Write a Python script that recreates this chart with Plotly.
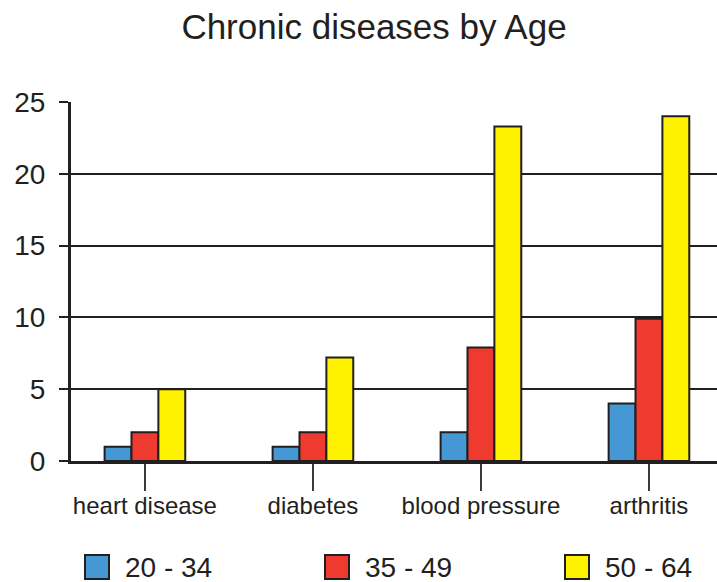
import plotly.graph_objects as go

# ---- data ----
categories = ["heart disease", "diabetes", "blood pressure", "arthritis"]
series_names = ["20 - 34", "35 - 49", "50 - 64"]
values_20_34 = [1, 1, 2, 4]
values_35_49 = [2, 2, 7.9, 9.9]
values_50_64 = [5, 7.2, 23.3, 24]
series_values = [values_20_34, values_35_49, values_50_64]
series_colors = ["#4598D3", "#EE3A2F", "#FFF200"]
y_ticks = [0, 5, 10, 15, 20, 25]

INK = "#231F20"
FONT = "Liberation Sans, Arial, Helvetica, sans-serif"

W, H = 717, 582
L, R, T, B = 71, 0, 102, 121
PW, PH = W - L - R, H - T - B


def px2x(px):
    return (px - L) / PW


def px2y(py):
    return (H - B - py) / PH


fig = go.Figure()
for name, vals, col in zip(series_names, series_values, series_colors):
    fig.add_trace(go.Bar(
        x=categories, y=vals, name=name,
        marker=dict(color=col, line=dict(color=INK, width=2)),
        showlegend=False,
    ))

# manual legend (large square swatches like the reference)
shapes = []
annotations = []
leg_left = [85, 325, 565]
for i, (name, col) in enumerate(zip(series_names, series_colors)):
    x0 = leg_left[i]
    shapes.append(dict(type="rect", xref="paper", yref="paper",
                       x0=px2x(x0), x1=px2x(x0 + 24), y0=px2y(579), y1=px2y(555),
                       fillcolor=col, line=dict(color=INK, width=2)))
    annotations.append(dict(text=name, xref="paper", yref="paper",
                            x=px2x(x0 + 38), y=px2y(567), xanchor="left", yanchor="middle",
                            showarrow=False, font=dict(size=28, color=INK, family=FONT)))

fig.update_layout(
    width=W, height=H,
    margin=dict(l=L, r=R, t=T, b=B, pad=0),
    paper_bgcolor="white", plot_bgcolor="rgba(0,0,0,0)",
    font=dict(family=FONT, color=INK),
    title=dict(text="Chronic diseases by Age", x=374 / W, xref="container", xanchor="center",
               y=1 - 27 / H, yref="container", yanchor="middle",
               font=dict(size=35, color=INK, family=FONT)),
    barmode="group", bargap=0.52, bargroupgap=0,
    shapes=shapes, annotations=annotations,
)
fig.update_xaxes(
    type="category", range=[-0.44, 3.405],
    showline=True, linecolor=INK, linewidth=3,
    ticks="outside", ticklen=27, tickwidth=1.5, tickcolor="#3a3a3a",
    tickfont=dict(size=24, color=INK, family=FONT),
    showgrid=False, zeroline=False, fixedrange=True,
    ticklabelstandoff=-6,
)
fig.update_yaxes(
    range=[0, 25], tickvals=y_ticks,
    showline=True, linecolor=INK, linewidth=3,
    ticks="outside", ticklen=9, tickwidth=2, tickcolor=INK,
    tickfont=dict(size=28, color=INK, family=FONT),
    showgrid=True, gridcolor=INK, gridwidth=2,
    zeroline=False, ticklabelstandoff=8,
)

fig.write_html(
    "out.html",
    config={"displayModeBar": False},
    post_script="document.body.style.margin='0';document.body.style.overflow='hidden';",
)
